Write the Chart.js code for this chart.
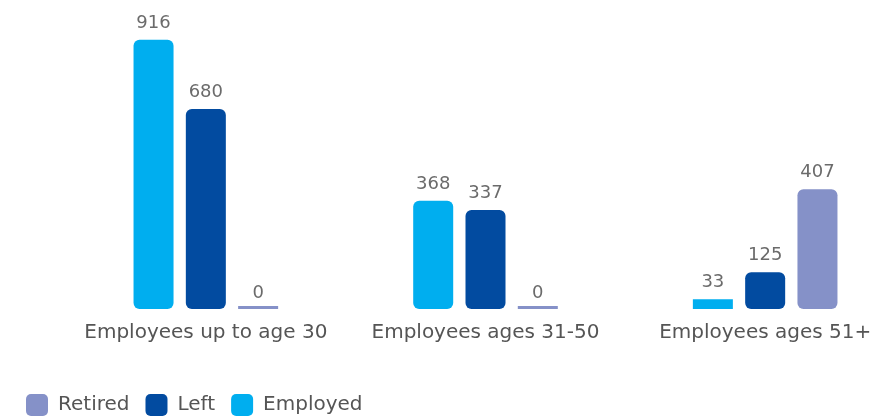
<!DOCTYPE html>
<html>
<head>
<meta charset="utf-8">
<script src="https://cdn.jsdelivr.net/npm/chart.js@4"></script>
<style>
  html, body { margin: 0; padding: 0; background: #fff; overflow: hidden; }
  #wrap { width: 905px; height: 419px; }
</style>
</head>
<body>
<div id="wrap"><canvas id="myBarChart"></canvas></div>
<script>
var categories = ["Employees up to age 30", "Employees ages 31-50", "Employees ages 51+"];
var employed = [916, 368, 33];
var left = [680, 337, 125];
var retired = [0, 0, 407];

// draws the value above every bar
var valueLabels = {
    id: 'valueLabels',
    afterDatasetsDraw: function (chart) {
        var ctx = chart.ctx;
        ctx.save();
        ctx.font = '18px "DejaVu Sans"';
        ctx.fillStyle = '#6b6b6b';
        ctx.textAlign = 'center';
        ctx.textBaseline = 'alphabetic';
        chart.data.datasets.forEach(function (ds, i) {
            var meta = chart.getDatasetMeta(i);
            if (meta.hidden) return;
            meta.data.forEach(function (bar, j) {
                var gap = ds.data[j] === 0 ? 8 : 12;
                ctx.fillText(ds.data[j], bar.x, bar.y - gap);
            });
        });
        ctx.restore();
    }
};

document.addEventListener("DOMContentLoaded", function () {
    var ctx = document.getElementById('myBarChart').getContext('2d');
    new Chart(ctx, {
        type: 'bar',
        data: {
            labels: categories,
            datasets: [
                { label: 'Employed', data: employed, backgroundColor: '#00aeef' },
                { label: 'Left', data: left, backgroundColor: '#024ba0' },
                { label: 'Retired', data: retired, backgroundColor: '#8591c8' }
            ]
        },
        options: {
            responsive: true,
            maintainAspectRatio: false,
            animation: false,
            datasets: {
                bar: {
                    barPercentage: 0.765,
                    categoryPercentage: 0.561,
                    // tiny bars are drawn flat
                    borderRadius: function (c) { return c.raw < 50 ? 0 : 6; },
                    borderSkipped: false,
                    minBarLength: 3
                }
            },
            layout: { padding: { top: 15, left: 10, right: 0, bottom: -7 } },
            scales: {
                x: {
                    grid: { display: false },
                    border: { display: false },
                    ticks: {
                        color: '#555',
                        padding: 4,
                        maxRotation: 0,
                        font: { family: 'DejaVu Sans', size: 20 }
                    },
                    afterFit: function (scale) { scale.height = 69; }
                },
                y: {
                    min: 0,
                    max: 1000,
                    grid: { display: false },
                    border: { display: false },
                    ticks: { display: false },
                    afterFit: function (scale) { scale.width = 56; }
                }
            },
            plugins: {
                legend: {
                    position: 'bottom',
                    align: 'start',
                    reverse: true,
                    labels: {
                        color: '#555',
                        font: { family: 'DejaVu Sans', size: 20 },
                        boxWidth: 22,
                        boxHeight: 22,
                        useBorderRadius: true,
                        borderRadius: 5,
                        padding: 16
                    }
                },
                tooltip: { enabled: false }
            }
        },
        plugins: [valueLabels]
    });
});
</script>
</body>
</html>
